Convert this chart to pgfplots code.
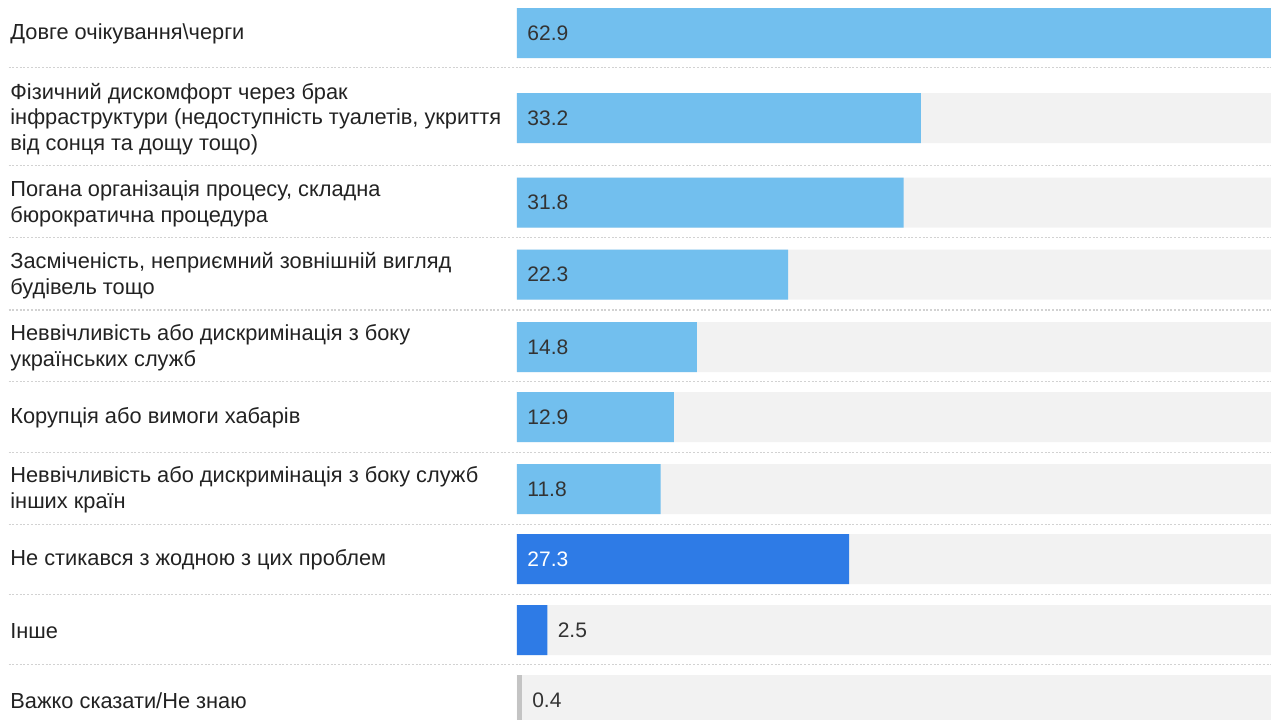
\documentclass[border=0pt]{standalone}
\usepackage{pgfplots}
\pgfplotsset{compat=1.18}
\usepackage{pgfplotstable}
\usepackage{fontspec}
\setmainfont{Liberation Sans}

\definecolor{lightbar}{HTML}{72BFEE}
\definecolor{darkbar}{HTML}{2E7BE6}
\definecolor{greybar}{HTML}{C4C4C4}
\definecolor{track}{HTML}{F2F2F2}
\definecolor{sepcol}{HTML}{D2D2D2}
\definecolor{labtext}{HTML}{222222}
\definecolor{valtext}{HTML}{333333}

% y = row centre in pixels from the top
\pgfplotstableread{
y     v
33    62.9
118   33.2
202.7 31.8
274.7 22.3
347   14.8
417   12.9
489   11.8
}\light
\pgfplotstableread{
y     v
559   27.3
630   2.5
}\dark
\pgfplotstableread{
y     v
700   0.4
}\grey
\pgfplotstableread{
y     full
33    62
118   62
202.7 62
274.7 62
347   62
417   62
489   62
559   62
630   62
700   62
}\tracks
% where the value labels sit (lx) and what they say
\pgfplotstableread{
y     lx   v
33    0    62.9
118   0    33.2
202.7 0    31.8
274.7 0    22.3
347   0    14.8
417   0    12.9
489   0    11.8
630   2.5  2.5
700   0.4  0.4
}\vallabels
\pgfplotstableread{
y     lx   v
559   0    27.3
}\whitelabels

\begin{document}
\begin{tikzpicture}
\begin{axis}[
    scale only axis,
    width=377pt, height=359.5pt,
    xmin=0, xmax=62,
    ymin=0, ymax=719,
    y dir=reverse,
    clip mode=individual,
    hide x axis,
    axis y line*=left,
    y axis line style={draw=none},
    ytick style={draw=none},
    major tick length=0pt,
    ytick={33,118,202.7,274.7,347,417,489,559,630,700},
    yticklabels={
        {Довге очікування\textbackslash черги},
        {Фізичний дискомфорт через брак\\інфраструктури (недоступність туалетів, укриття\\від сонця та дощу тощо)},
        {Погана організація процесу, складна\\бюрократична процедура},
        {Засміченість, неприємний зовнішній вигляд\\будівель тощо},
        {Неввічливість або дискримінація з боку\\українських служб},
        {Корупція або вимоги хабарів},
        {Неввічливість або дискримінація з боку служб\\інших країн},
        {Не стикався з жодною з цих проблем},
        {Інше},
        {Важко сказати/Не знаю}
    },
    yticklabel style={anchor=west, align=left, xshift=-253.5pt, yshift=-0.5pt,
        inner sep=0pt, text=labtext, font={\fontsize{10.9}{12.8}\selectfont}},
    every node near coord/.append style={anchor=west, xshift=5pt, inner sep=0pt,
        font={\fontsize{10.5}{12.25}\selectfont}},
]
\addplot[xbar, bar width=50, bar shift=0pt, fill=track, draw=none] table[x=full, y=y] {\tracks};
\addplot[xbar, bar width=50, bar shift=0pt, fill=lightbar, draw=none] table[x=v, y=y] {\light};
\addplot[xbar, bar width=50, bar shift=0pt, fill=darkbar, draw=none] table[x=v, y=y] {\dark};
\addplot[xbar, bar width=50, bar shift=0pt, fill=greybar, draw=none] table[x=v, y=y] {\grey};

\addplot[draw=none, mark=none, nodes near coords, point meta=explicit symbolic,
    every node near coord/.append style={text=valtext}]
    table[x=lx, y=y, meta=v] {\vallabels};
\addplot[draw=none, mark=none, nodes near coords, point meta=explicit symbolic,
    every node near coord/.append style={text=white}]
    table[x=lx, y=y, meta=v] {\whitelabels};

% dotted row separators
\draw[sepcol, line width=0.6pt, dash pattern=on 1pt off 0.85pt] (axis cs:-41.8,67.7) -- (axis cs:62,67.7);
\draw[sepcol, line width=0.6pt, dash pattern=on 1pt off 0.85pt] (axis cs:-41.8,165.7) -- (axis cs:62,165.7);
\draw[sepcol, line width=0.6pt, dash pattern=on 1pt off 0.85pt] (axis cs:-41.8,237.7) -- (axis cs:62,237.7);
\draw[sepcol, line width=0.6pt, dash pattern=on 1pt off 0.85pt] (axis cs:-41.8,310) -- (axis cs:62,310);
\draw[sepcol, line width=0.6pt, dash pattern=on 1pt off 0.85pt] (axis cs:-41.8,381.7) -- (axis cs:62,381.7);
\draw[sepcol, line width=0.6pt, dash pattern=on 1pt off 0.85pt] (axis cs:-41.8,452.3) -- (axis cs:62,452.3);
\draw[sepcol, line width=0.6pt, dash pattern=on 1pt off 0.85pt] (axis cs:-41.8,524.3) -- (axis cs:62,524.3);
\draw[sepcol, line width=0.6pt, dash pattern=on 1pt off 0.85pt] (axis cs:-41.8,594.7) -- (axis cs:62,594.7);
\draw[sepcol, line width=0.6pt, dash pattern=on 1pt off 0.85pt] (axis cs:-41.8,664.7) -- (axis cs:62,664.7);

\coordinate (TL) at (axis cs:0,0);
\coordinate (BR) at (axis cs:62,719);
\end{axis}
\pgfresetboundingbox
\path ([xshift=-258.5pt]TL) rectangle (BR);
\end{tikzpicture}
\end{document}
